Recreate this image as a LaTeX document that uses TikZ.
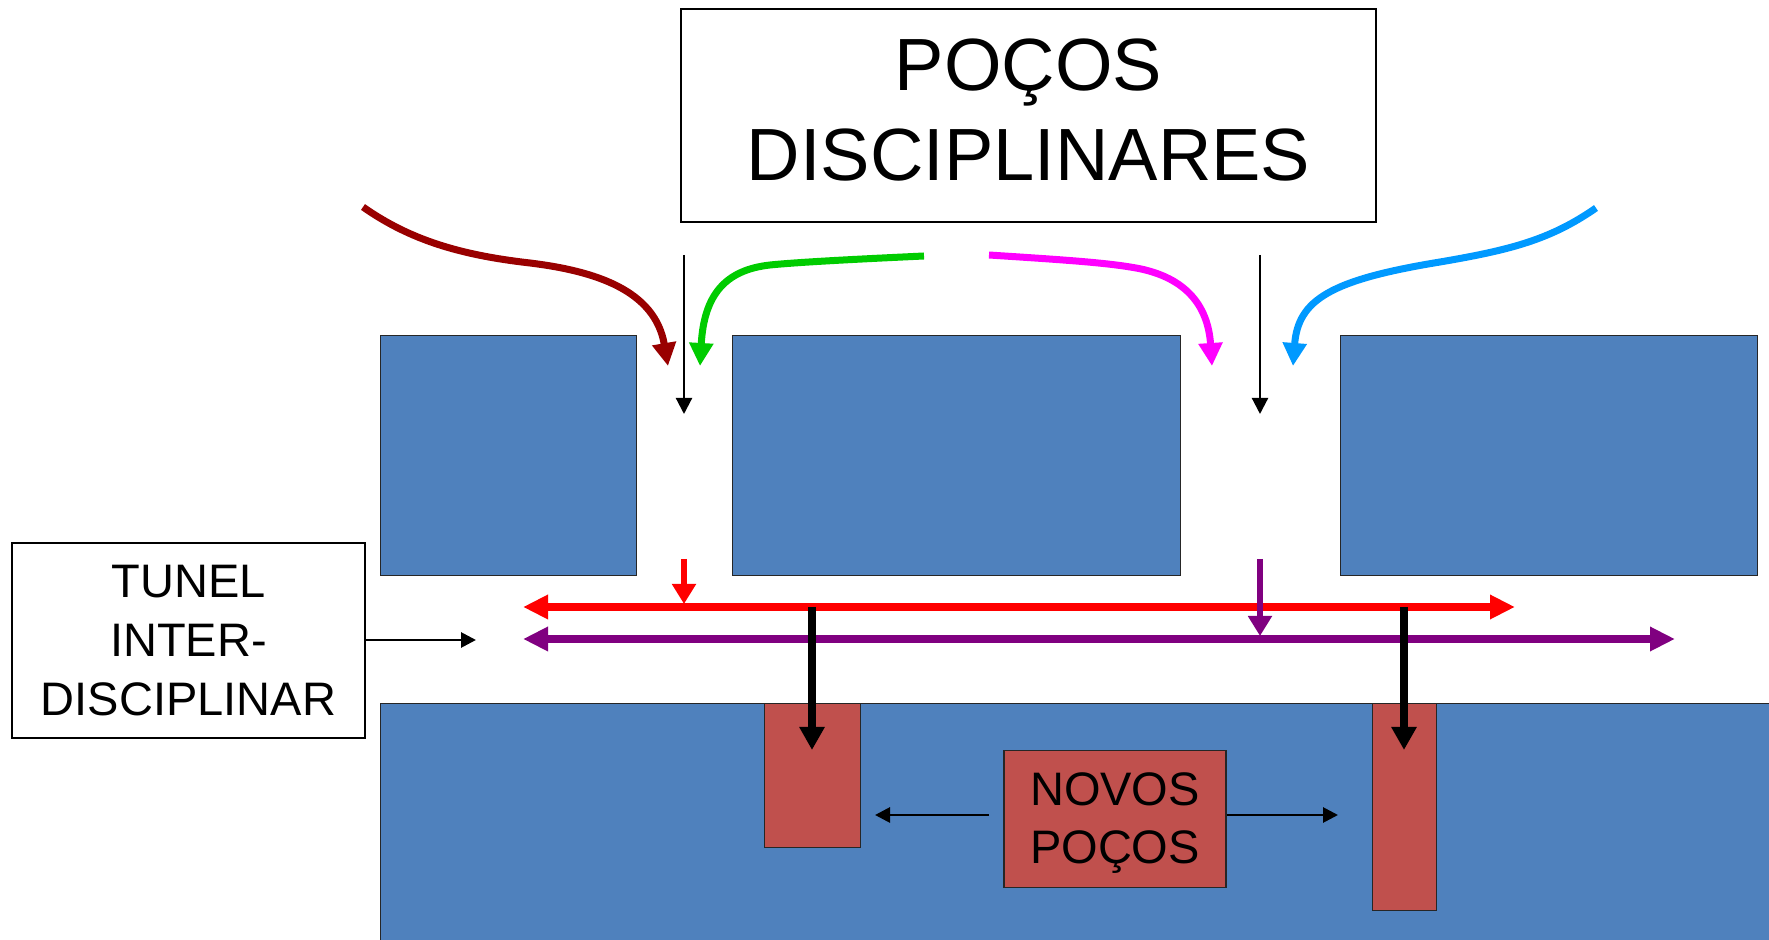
\documentclass[tikz,border=0pt]{standalone}
\usepackage{fontspec}
\setmainfont{Liberation Sans}
\usetikzlibrary{arrows.meta}
\definecolor{boxblue}{HTML}{4F81BD}
\definecolor{wellred}{HTML}{C0504D}
\definecolor{darkredA}{HTML}{990000}
\definecolor{greenA}{HTML}{00CC00}
\definecolor{magentaA}{HTML}{FF00FF}
\definecolor{skyblueA}{HTML}{0099FF}
\definecolor{purpleA}{HTML}{800080}
\definecolor{redA}{HTML}{FF0000}
\begin{document}
\begin{tikzpicture}[x=0.5pt,y=-0.5pt,
  bluebox/.style={draw=black!85, line width=0.7pt, fill=boxblue, inner sep=0pt, anchor=north west},
  wellbox/.style={draw=black!85, line width=0.7pt, fill=wellred, inner sep=0pt, anchor=north west},
  whitebox/.style={draw=black, line width=0.8pt, fill=white, inner sep=0pt, align=center},
  labeltext/.style={inner sep=0pt, align=center},
  curvearrow/.style={line width=3.5pt, -{Triangle[length=11.5pt,width=11.5pt]}},
  thinarrow/.style={line width=1.1pt, black, -{Triangle[length=8pt,width=8pt]}},
  thickarrow/.style={line width=4pt, black, -{Triangle[length=11.5pt,width=12pt]}},
  busarrow/.style={line width=4pt, {Triangle[length=12.5pt,width=11.5pt]}-{Triangle[length=12.5pt,width=11.5pt]}},
  droparrow/.style={line width=3.3pt, -{Triangle[length=10pt,width=11.5pt]}},
  sidearrow/.style={line width=1.4pt, black, -{Triangle[length=7.5pt,width=7.5pt]}}
]
\useasboundingbox (0,0) rectangle (1769,940);
\clip (0,0) rectangle (1769,940);
\fill[white] (0,0) rectangle (1769,940);

% title box
\node[whitebox, minimum width=347.5pt, minimum height=106.5pt] (title) at (1028.5,115.5) {};
\node[labeltext, font=\fontsize{37pt}{45pt}\selectfont] (titletext) at (1028.5,110)
      {POÇOS\\DISCIPLINARES};

% upper blocks
\node[bluebox, minimum width=128pt, minimum height=120pt] (b1) at (380,335) {};
\node[bluebox, minimum width=224pt, minimum height=120pt] (b2) at (732,335) {};
\node[bluebox, minimum width=208.5pt, minimum height=120pt] (b3) at (1340,335) {};

% lower block
\node[bluebox, minimum width=720pt, minimum height=150pt] (ground) at (380,703) {};

% wells
\node[wellbox, minimum width=48pt, minimum height=72pt] (w1) at (764,703) {};
\node[wellbox, minimum width=32pt, minimum height=103.5pt] (w2) at (1372,703) {};

% novos pocos
\node[wellbox, anchor=center, minimum width=111pt, minimum height=68.5pt] (novos) at (1115,819) {};
\node[labeltext, font=\fontsize{23.5pt}{29pt}\selectfont] (novostext) at (1115,823) {NOVOS\\POÇOS};

% tunel box
\node[whitebox, minimum width=176.5pt, minimum height=97.5pt,
      font=\fontsize{23.5pt}{29.5pt}\selectfont] (tunel) at (188.5,640.5)
      {TUNEL\\INTER-\\DISCIPLINAR};

% coordinates
\coordinate (dr0) at (363,207);  \coordinate (dr1) at (668,366);
\coordinate (gr0) at (924,256);  \coordinate (gr1) at (700,366);
\coordinate (mg0) at (989,255);  \coordinate (mg1) at (1212,366);
\coordinate (sb0) at (1596,208); \coordinate (sb1) at (1293,366);
\coordinate (tl0) at (684,255);  \coordinate (tl1) at (684,414);
\coordinate (tr0) at (1260,255); \coordinate (tr1) at (1260,414);
\coordinate (redL) at (523,607); \coordinate (redR) at (1515,607);
\coordinate (purL) at (523,639); \coordinate (purR) at (1675,639);
\coordinate (rd0) at (684,559);  \coordinate (rd1) at (684,604);
\coordinate (pd0) at (1260,559); \coordinate (pd1) at (1260,636);
\coordinate (k10) at (812,607);  \coordinate (k11) at (812,750);
\coordinate (k20) at (1404,607); \coordinate (k21) at (1404,750);
\coordinate (tunT) at (476,640);
\coordinate (nvL) at (875,815);  \coordinate (nvL0) at (989,815);
\coordinate (nvR) at (1338,815);

% curved arrows
\draw[curvearrow, darkredA] (dr0) .. controls (410,240) and (460,255) .. (530,263)
   .. controls (595,271) and (655,290) .. (dr1);
\draw[curvearrow, greenA] (gr0) .. controls (860,259) and (800,262) .. (770,265)
   .. controls (725,270) and (704,295) .. (gr1);
\draw[curvearrow, magentaA] (mg0) .. controls (1050,259) and (1100,262) .. (1130,267)
   .. controls (1185,275) and (1208,305) .. (mg1);
\draw[curvearrow, skyblueA] (sb0) .. controls (1550,240) and (1510,250) .. (1440,262)
   .. controls (1330,280) and (1298,300) .. (sb1);

% thin down arrows
\draw[thinarrow] (tl0) -- (tl1);
\draw[thinarrow] (tr0) -- (tr1);

% horizontal bus arrows
\draw[busarrow, redA] (redL) -- (redR);
\draw[busarrow, purpleA] (purL) -- (purR);

% drop arrows
\draw[droparrow, redA] (rd0) -- (rd1);
\draw[droparrow, purpleA] (pd0) -- (pd1);

% thick black arrows into wells
\draw[thickarrow] (k10) -- (k11);
\draw[thickarrow] (k20) -- (k21);

% tunel arrow
\draw[sidearrow] (tunel.east |- tunT) -- (tunT);

% novos pocos arrows
\draw[sidearrow] (nvL0) -- (nvL);
\draw[sidearrow] (novos.east |- nvR) -- (nvR);
\end{tikzpicture}
\end{document}
